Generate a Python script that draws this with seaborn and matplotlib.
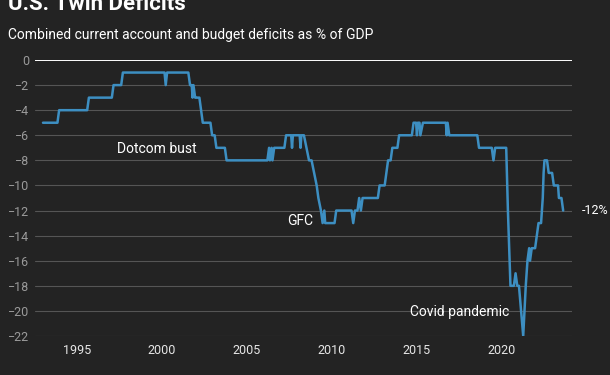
import matplotlib
matplotlib.use("Agg")
import matplotlib.pyplot as plt
import seaborn as sns
import pandas as pd

# Data (decimal year, % of GDP)
years = [1993.0, 1993.85, 1993.95, 1995.6, 1995.7, 1997.05, 1997.15, 1997.6, 1997.7,
         2000.15, 2000.22, 2000.3, 2001.55, 2001.65, 2001.75, 2001.8, 2001.85, 2001.95,
         2002.0, 2002.2, 2002.3, 2002.4, 2002.85, 2002.95, 2003.1, 2003.2, 2003.7, 2003.8,
         2006.2, 2006.3, 2006.35, 2006.45, 2006.5, 2006.6, 2007.2, 2007.3, 2007.6, 2007.65,
         2007.7, 2008.1, 2008.15, 2008.2, 2008.35, 2008.5, 2008.65, 2008.8, 2008.95, 2009.1,
         2009.2, 2009.35, 2009.45, 2009.55, 2009.6, 2010.15, 2010.25, 2011.15, 2011.25,
         2011.35, 2011.5, 2011.6, 2011.7, 2011.8, 2012.7, 2012.8, 2013.1, 2013.2, 2013.3,
         2013.45, 2013.55, 2013.85, 2013.95, 2014.7, 2014.8, 2014.95, 2015.0, 2015.05,
         2015.15, 2015.2, 2015.35, 2016.7, 2016.75, 2016.8, 2016.9, 2018.55, 2018.65,
         2019.4, 2019.5, 2019.6, 2020.25, 2020.35, 2020.5, 2020.7, 2020.8, 2020.9, 2021.0,
         2021.25, 2021.4, 2021.5, 2021.6, 2021.65, 2021.75, 2021.95, 2022.05, 2022.15,
         2022.3, 2022.4, 2022.45, 2022.5, 2022.65, 2022.75, 2022.95, 2023.05, 2023.3,
         2023.35, 2023.5, 2023.6]
deficit = [-5, -5, -4, -4, -3, -3, -2, -2, -1,
           -1, -2, -1, -1, -2, -2, -3, -2, -3,
           -3, -3, -4, -5, -5, -6, -6, -7, -7, -8,
           -8, -7, -8, -7, -8, -7, -7, -6, -6, -7,
           -6, -6, -7, -6, -6, -7, -8, -8, -9, -10,
           -11, -12, -13, -12, -13, -13, -12, -12, -13,
           -12, -12, -11, -12, -11, -11, -10, -10, -9, -8,
           -8, -7, -7, -6, -6, -5, -5, -6, -5,
           -5, -6, -5, -5, -6, -5, -6, -6, -7,
           -7, -8, -7, -7, -12, -18, -18, -17, -18, -18,
           -22, -18, -16, -15, -16, -15, -15, -14, -13,
           -13, -11, -9, -8, -8, -9, -9, -10, -10,
           -11, -11, -12]

yticks = list(range(0, -23, -2))
xticks = [1995, 2000, 2005, 2010, 2015, 2020]
annotations = [("Dotcom bust", 1999.7, -7.1), ("GFC", 2008.1, -12.8),
               ("Covid pandemic", 2017.5, -20.1)]

title = "U.S. Twin Deficits"
subtitle = "Combined current account and budget deficits as % of GDP"

BG = "#232323"
LINE = "#3d8fc2"

sns.set_theme(style="dark")
plt.rcParams["font.family"] = ["Roboto", "DejaVu Sans"]
plt.rcParams["axes.unicode_minus"] = True

fig = plt.figure(figsize=(6.1, 3.75), dpi=100, facecolor=BG)
ax = fig.add_axes([35/610, 1-336/375, (572-35)/610, (336-60)/375])
ax.set_facecolor(BG)

df = pd.DataFrame({"year": years, "deficit": deficit})
for v in yticks:
    if v == 0:
        ax.axhline(v, color="white", lw=1.4, zorder=1)
    else:
        ax.axhline(v, color="#555555", lw=0.8, zorder=1)

sns.lineplot(data=df, x="year", y="deficit", sort=False, estimator=None,
             color=LINE, lw=1.8, ax=ax, zorder=3)

ax.set_xlim(1992.53, 2024.12)
ax.set_ylim(-22, 0)
ax.set_yticks(yticks)
ax.set_yticklabels([("\u2212" + str(-v)) if v < 0 else str(v) for v in yticks])
ax.set_xticks(xticks)
ax.set_xticklabels([str(x) for x in xticks])
ax.tick_params(axis="y", colors="#9a9a9a", labelsize=9, length=0, pad=4)
ax.tick_params(axis="x", colors="#e6e6e6", labelsize=9, length=0, pad=6)
ax.set_xlabel("")
ax.set_ylabel("")
ax.grid(False)
for s in ax.spines.values():
    s.set_visible(False)

for txt, x, y in annotations:
    ax.text(x, y, txt, color="white", fontsize=10, ha="center", va="center", zorder=4)

ax.text(2024.7, deficit[-1], "-12%", color="white", fontsize=9, ha="left",
        va="center", clip_on=False)

fig.text(8/610, 1-10/375, title, color="white", fontsize=16, fontweight="bold",
         ha="left", va="baseline")
fig.text(8/610, 1-35/375, subtitle, color="white", fontsize=10, ha="left", va="center")

fig.savefig("out.png", dpi=100, facecolor=BG)
